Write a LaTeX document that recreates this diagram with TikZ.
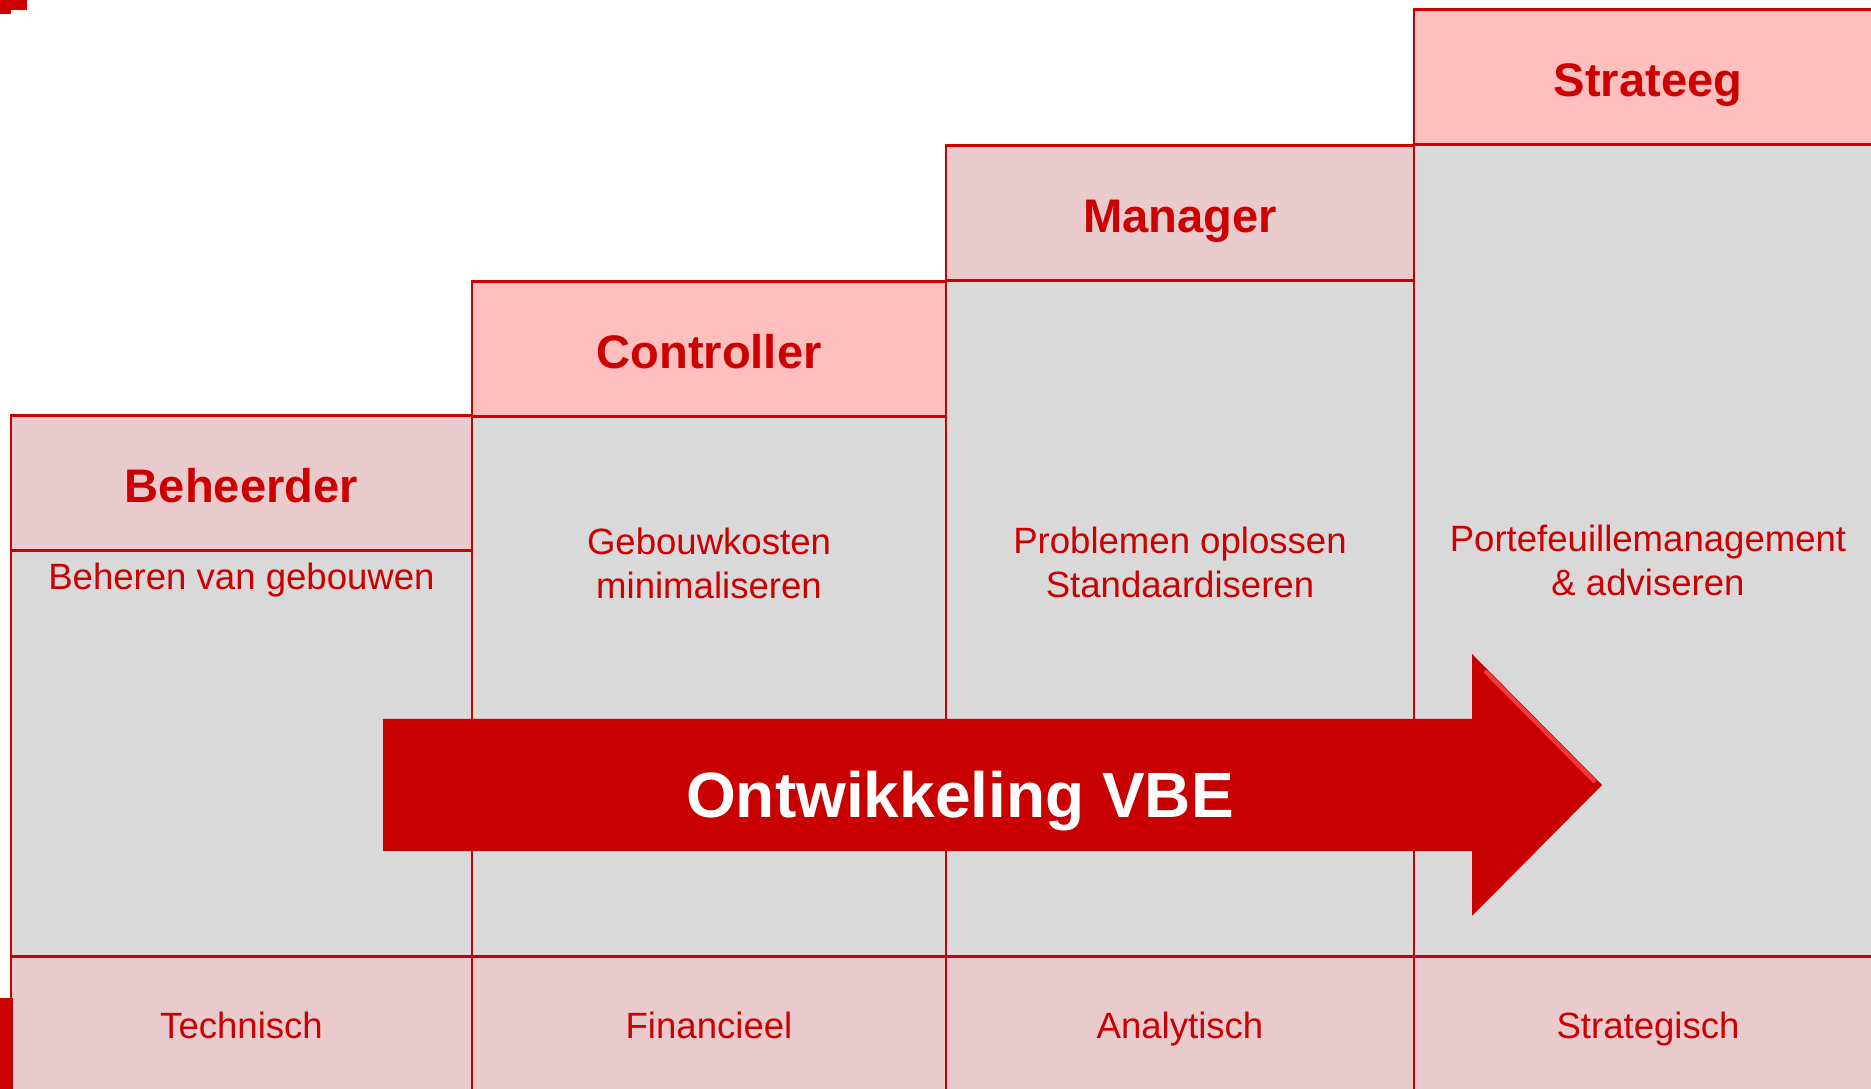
\documentclass[tikz,border=0pt]{standalone}
\usepackage{fontspec}
\setmainfont{Liberation Sans}
\usetikzlibrary{calc}
\usepackage{xcolor}
\definecolor{vberood}{HTML}{CC0000}
\definecolor{pijlrood}{HTML}{C80000}
\definecolor{glansrood}{HTML}{F23A3A}
\definecolor{kopgrijs}{HTML}{EACBCD}
\definecolor{koproze}{HTML}{FFBFBF}
\definecolor{vlakgrijs}{HTML}{D9D9D9}

\begin{document}
\begin{tikzpicture}[x=0.01cm,y=-0.01cm,
  rand/.style={draw=vberood,line width=0.85pt},
  kop/.style={text=vberood,font=\fontsize{13.4}{16}\selectfont\bfseries,anchor=base,inner sep=0},
  tekst/.style={text=vberood,font=\fontsize{10.4}{12.6}\selectfont,align=center,anchor=base,inner sep=0}]
\useasboundingbox (0,0) rectangle (1871,1089);
\clip (0,0) rectangle (1871,1089);
% kolommen: links, rechts, bovenkant kop, kleur kop, naam, rol, taak, hoogte taak, vaardigheid
\foreach \xl/\xr/\top/\kleur/\naam/\rol/\taak/\ty/\vak in {
  11/472/416/kopgrijs/beh/Beheerder/{Beheren van gebouwen}/590/Technisch,
  472/946/282/koproze/con/Controller/{Gebouwkosten\\minimaliseren}/599/Financieel,
  946/1414/146/kopgrijs/man/Manager/{Problemen oplossen\\Standaardiseren}/598/Analytisch,
  1414/1882/10/koproze/str/Strateeg/{Portefeuillemanagement\\\& adviseren}/596/Strategisch} {
 \pgfmathsetmacro{\xm}{(\xl+\xr)/2}
 \pgfmathsetmacro{\onder}{\top+135}
 \fill[vlakgrijs] (\xl,\onder) rectangle (\xr,957);
 \fill[\kleur] (\xl,\top) rectangle (\xr,\onder);
 \fill[kopgrijs] (\xl,957) rectangle (\xr,1095);
 \draw[rand] (\xl,1095) -- (\xl,\top) -- (\xr,\top) -- (\xr,1095);
 \draw[rand] (\xl,\onder) -- (\xr,\onder);
 \draw[rand] (\xl,957) -- (\xr,957);
 \node[kop] (\naam) at (\xm,{(\top+\onder)/2+19}) {\rol};
 \node[tekst] (\naam-taak) at (\xm,\ty) {\taak};
 \node[tekst] (\naam-vak) at (\xm,1039) {\vak};
 }
% randjes linksboven en linksonder
\fill[vberood] (0,0) rectangle (27,10);
\fill[vberood] (0,0) rectangle (11,14);
\fill[vberood] (0,998) rectangle (13,1089);
% pijl
\fill[pijlrood] (383,719) -- (1472,719) -- (1472,654) -- (1602,785)
  -- (1472,916) -- (1472,851) -- (383,851) -- cycle;
\draw[glansrood, line width=1.2pt, line cap=round] (1486,672) -- (1594,781);
\node[text=white, font=\fontsize{18.2}{22}\selectfont\bfseries, anchor=base, inner sep=0] (vbe) at (960,818) {Ontwikkeling VBE};
\end{tikzpicture}
\end{document}
